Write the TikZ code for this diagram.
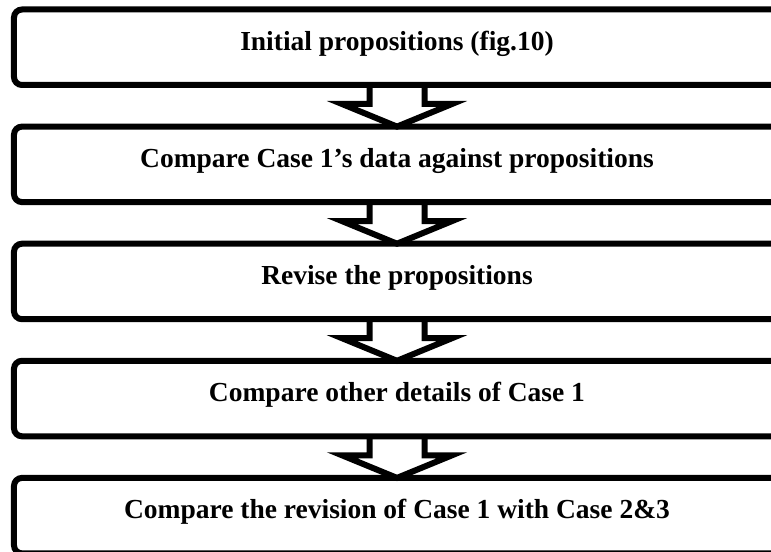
\documentclass[tikz,border=0pt]{standalone}
\usepackage{fontspec}
\setmainfont{Liberation Serif}
\usetikzlibrary{calc}

\tikzset{
  stagebox/.style={draw, line width=6bp, rounded corners=8bp,
    minimum width=766bp, minimum height=75.5bp, inner sep=0pt, outer sep=0pt,
    text height=20bp, text depth=13.5bp,
    font=\fontsize{27.5bp}{33bp}\selectfont\bfseries},
  blockarrow/.style={draw, line width=6bp, line join=miter}
}

% hollow block arrow from the bottom of one stage to the top of the next
\newcommand\stagearrow[2]{%
  \draw[blockarrow]
    ($(#1.south)+(-27.5,0)$) -- ($(#1.south)+(-27.5,19)$)
    -- ($(#1.south)+(-55,19)$) -- (#2.north)
    -- ($(#1.south)+(55,19)$) -- ($(#1.south)+(27.5,19)$)
    -- ($(#1.south)+(27.5,0)$);}

\begin{document}
\begin{tikzpicture}[x=1bp, y=-1bp]
  \useasboundingbox (0,0) rectangle (771,552);
  \clip (0,0) rectangle (771,552);

  \node[stagebox] (s1) at (397,47.25)  {Initial propositions (fig.10)};
  \node[stagebox] (s2) at (397,164.35) {Compare Case 1’s data against propositions};
  \node[stagebox] (s3) at (397,281.45) {Revise the propositions};
  \node[stagebox] (s4) at (397,398.55) {Compare other details of Case 1};
  \node[stagebox] (s5) at (397,515.65) {Compare the revision of Case 1 with Case 2\&3};

  \stagearrow{s1}{s2}
  \stagearrow{s2}{s3}
  \stagearrow{s3}{s4}
  \stagearrow{s4}{s5}
\end{tikzpicture}
\end{document}
